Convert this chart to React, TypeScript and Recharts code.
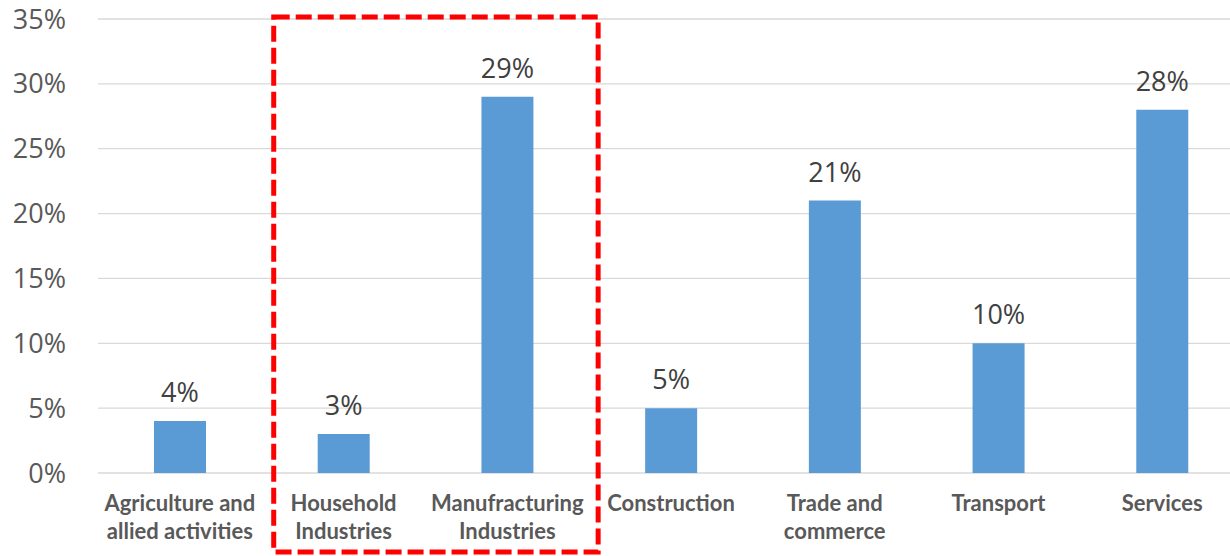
import React from "react";
import { BarChart, Bar, XAxis, YAxis, CartesianGrid, LabelList, ReferenceArea } from "recharts";

const categories = [
  "Agriculture and allied activities",
  "Household Industries",
  "Manufracturing Industries",
  "Construction",
  "Trade and commerce",
  "Transport",
  "Services",
];
const categoryLines = [
  ["Agriculture and", "allied activities"],
  ["Household", "Industries"],
  ["Manufracturing", "Industries"],
  ["Construction"],
  ["Trade and", "commerce"],
  ["Transport"],
  ["Services"],
];
const shares = [4, 3, 29, 5, 21, 10, 28];
const yTicks = [0, 5, 10, 15, 20, 25, 30, 35];
const highlightFrom = "Household Industries";
const highlightTo = "Manufracturing Industries";

const data = categories.map((c, i) => ({ name: c, value: shares[i], lines: categoryLines[i] }));

const XTick = (props: any) => {
  const { x, y, payload } = props;
  const idx = categories.indexOf(payload.value);
  const lines = idx >= 0 ? categoryLines[idx] : [payload.value];
  return (
    <g>
      {lines.map((l: string, i: number) => (
        <text
          key={i}
          x={x}
          y={y + 38 + i * 28}
          textAnchor="middle"
          fill="#595959"
          fontFamily="Lato, sans-serif"
          fontWeight={700}
          fontSize={22}
        >
          {l}
        </text>
      ))}
    </g>
  );
};

const HighlightShape = (props: any) => {
  const { x, y, width, height } = props;
  return (
    <rect
      x={x + 12}
      y={y - 2}
      width={width - 3}
      height={height + 81}
      fill="none"
      stroke="#FF0000"
      strokeWidth={5}
      strokeDasharray="16 6"
    />
  );
};

export default function App() {
  return (
    <div style={{ position: "absolute", left: 0, top: 0, width: 1230, height: 556, overflow: "hidden", background: "#fff" }}>
      <BarChart
        width={1260}
        height={556}
        data={data}
        margin={{ top: 19, right: 16, left: 0, bottom: 0 }}
      >
        <CartesianGrid vertical={false} stroke="#d9d9d9" strokeWidth={1.3} />
        <XAxis
          dataKey="name"
          axisLine={false}
          tickLine={false}
          tickSize={0}
          tickMargin={0}
          height={83}
          interval={0}
          tick={<XTick />}
        />
        <YAxis
          width={98}
          domain={[0, 35]}
          ticks={yTicks}
          axisLine={false}
          tickLine={false}
          tickSize={0}
          tickMargin={32}
          tickFormatter={(v: number) => `${v}%`}
          tick={{ fill: "#595959", fontSize: 27, fontFamily: "'Open Sans', sans-serif" }}
        />
        <Bar dataKey="value" fill="#5B9BD5" barSize={52} isAnimationActive={false}>
          <LabelList
            dataKey="value"
            position="top"
            offset={19}
            formatter={(v: any) => `${v}%`}
            fill="#404040"
            fontSize={27}
            fontFamily="'Open Sans', sans-serif"
          />
        </Bar>
        <ReferenceArea
          x1={highlightFrom}
          x2={highlightTo}
          y1={0}
          y2={35}
          ifOverflow="visible"
          shape={<HighlightShape />}
        />
      </BarChart>
    </div>
  );
}
